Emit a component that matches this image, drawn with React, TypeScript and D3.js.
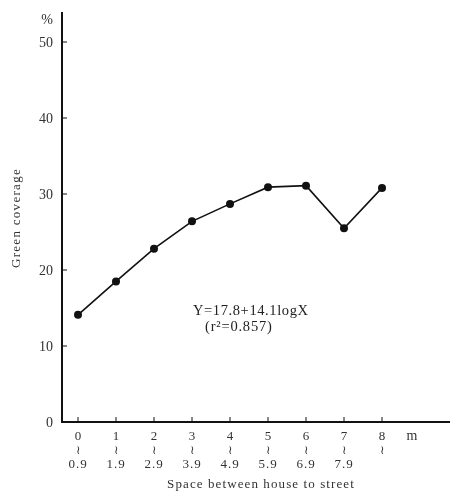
import React, { useEffect, useRef } from 'react';
import * as d3 from 'd3';

const categories = ['0', '1', '2', '3', '4', '5', '6', '7', '8'];
const upperLabels = ['0.9', '1.9', '2.9', '3.9', '4.9', '5.9', '6.9', '7.9', ''];
const coverage = [14.1, 18.5, 22.8, 26.4, 28.7, 30.9, 31.1, 25.5, 30.8];
const yTicks = [0, 10, 20, 30, 40, 50];

const App = () => {
    const svgRef = useRef<SVGSVGElement>(null);

    useEffect(() => {
        const svg = d3.select(svgRef.current);
        svg.selectAll('*').remove();

        const width = 451;
        const height = 494;
        const font = '"Liberation Serif", "DejaVu Serif", serif';
        const ink = '#111';

        svg.attr('width', width).attr('height', height);

        // Scales
        const x = d3.scalePoint<string>()
            .domain(categories)
            .range([78, 382]);

        const y = d3.scaleLinear()
            .domain([0, 50])
            .range([422, 42]);

        // Axes lines
        svg.append('line')
            .attr('x1', 62).attr('x2', 62)
            .attr('y1', 12).attr('y2', 423)
            .style('stroke', ink).style('stroke-width', 2);

        svg.append('line')
            .attr('x1', 61).attr('x2', 450)
            .attr('y1', 422).attr('y2', 422)
            .style('stroke', ink).style('stroke-width', 2);

        // Y ticks
        svg.selectAll('.ytick')
            .data(yTicks)
            .enter()
            .append('line')
            .attr('x1', 62).attr('x2', 67)
            .attr('y1', d => y(d)).attr('y2', d => y(d))
            .style('stroke', ink).style('stroke-width', 1);

        svg.selectAll('.ylabel')
            .data(yTicks)
            .enter()
            .append('text')
            .attr('x', 53)
            .attr('y', d => y(d) + 5)
            .attr('text-anchor', 'end')
            .style('font-family', font)
            .style('font-size', '14px')
            .style('fill', '#333')
            .text(d => d);

        svg.append('text')
            .attr('x', 53).attr('y', 24)
            .attr('text-anchor', 'end')
            .style('font-family', font)
            .style('font-size', '14px')
            .style('fill', '#333')
            .text('%');

        // Y title
        svg.append('text')
            .attr('transform', 'translate(20, 218) rotate(-90)')
            .attr('text-anchor', 'middle')
            .style('font-family', font)
            .style('font-size', '13px')
            .style('letter-spacing', '1.3px')
            .style('fill', '#333')
            .text('Green coverage');

        // X ticks
        svg.selectAll('.xtick')
            .data(categories)
            .enter()
            .append('line')
            .attr('x1', d => x(d)!).attr('x2', d => x(d)!)
            .attr('y1', 422).attr('y2', 417)
            .style('stroke', ink).style('stroke-width', 1);

        svg.selectAll('.xlabel')
            .data(categories)
            .enter()
            .append('text')
            .attr('x', d => x(d)!)
            .attr('y', 440)
            .attr('text-anchor', 'middle')
            .style('font-family', font)
            .style('font-size', '13px')
            .style('fill', '#333')
            .text(d => d);

        // "~" separator between the range bounds
        svg.selectAll('.xwave')
            .data(categories)
            .enter()
            .append('text')
            .attr('x', d => x(d)!)
            .attr('y', 454)
            .attr('text-anchor', 'middle')
            .style('font-family', font)
            .style('font-size', '12px')
            .style('fill', '#333')
            .text('\u2240');

        svg.selectAll('.xlabel2')
            .data(categories)
            .enter()
            .append('text')
            .attr('x', d => x(d)!)
            .attr('y', 468)
            .attr('text-anchor', 'middle')
            .style('font-family', font)
            .style('font-size', '13px')
            .style('letter-spacing', '1px')
            .style('fill', '#333')
            .text((d, i) => upperLabels[i]);

        svg.append('text')
            .attr('x', 412).attr('y', 440)
            .attr('text-anchor', 'middle')
            .style('font-family', font)
            .style('font-size', '14px')
            .style('fill', '#333')
            .text('m');

        // X title
        svg.append('text')
            .attr('x', 261).attr('y', 488)
            .attr('text-anchor', 'middle')
            .style('font-family', font)
            .style('font-size', '13px')
            .style('letter-spacing', '1.1px')
            .style('fill', '#333')
            .text('Space between house to street');

        // Line
        const line = d3.line<number>()
            .x((d, i) => x(categories[i])!)
            .y(d => y(d));

        svg.append('path')
            .datum(coverage)
            .attr('d', line)
            .style('fill', 'none')
            .style('stroke', ink)
            .style('stroke-width', 1.6);

        svg.selectAll('.dot')
            .data(coverage)
            .enter()
            .append('circle')
            .attr('cx', (d, i) => x(categories[i])!)
            .attr('cy', d => y(d))
            .attr('r', 4)
            .style('fill', ink);

        // Equation
        svg.append('text')
            .attr('x', 193).attr('y', 315)
            .style('font-family', font)
            .style('font-size', '14.5px')
            .style('letter-spacing', '0.6px')
            .style('fill', '#222')
            .text('Y=17.8+14.1logX');

        svg.append('text')
            .attr('x', 205).attr('y', 331)
            .style('font-family', font)
            .style('font-size', '14.5px')
            .style('letter-spacing', '0.8px')
            .style('fill', '#222')
            .text('(r\u00b2=0.857)');
    }, []);

    return (
        <div style={{ position: 'fixed', left: 0, top: 0, width: 451, height: 494, overflow: 'hidden' }}>
            <svg ref={svgRef} style={{ display: 'block' }}></svg>
        </div>
    );
};

export default App;
